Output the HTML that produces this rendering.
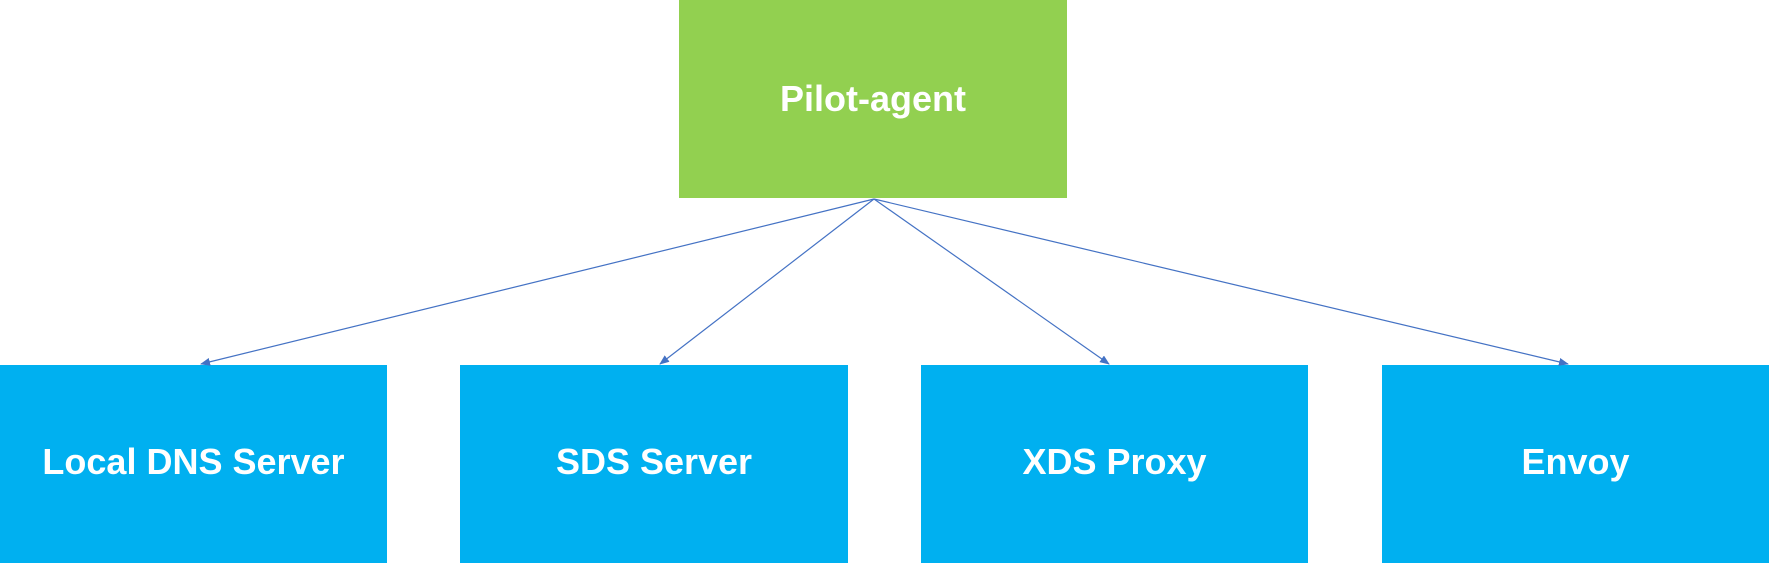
<!DOCTYPE html>
<html><head><meta charset="utf-8"><style>
html,body{margin:0;padding:0;background:#fff;}
body{width:1769px;height:563px;position:relative;overflow:hidden;font-family:"Liberation Sans",sans-serif;}
.b{position:absolute;display:flex;align-items:center;justify-content:center;color:#fff;font-weight:bold;font-size:36px;}
.g{background:#92d050;}
.c{background:#00b0f0;}
svg{position:absolute;left:0;top:0;}
</style></head><body>
<div class="b g" style="left:679px;top:0;width:388px;height:198px;">Pilot-agent</div>
<div class="b c" style="left:0;top:365px;width:387px;height:198px;padding-bottom:5px;box-sizing:border-box;">Local DNS Server</div>
<div class="b c" style="left:460px;top:365px;width:388px;height:198px;padding-bottom:5px;box-sizing:border-box;">SDS Server</div>
<div class="b c" style="left:921px;top:365px;width:387px;height:198px;padding-bottom:5px;box-sizing:border-box;">XDS Proxy</div>
<div class="b c" style="left:1382px;top:365px;width:387px;height:198px;padding-bottom:5px;box-sizing:border-box;">Envoy</div>
<svg width="1769" height="563">
<defs><marker id="a" markerWidth="10" markerHeight="8" refX="9" refY="4" orient="auto" markerUnits="userSpaceOnUse"><path d="M0,0 L10,4 L0,8 Z" fill="#4472c4"/></marker></defs>
<g stroke="#4472c4" stroke-width="1.2" fill="none" marker-end="url(#a)">
<line x1="874" y1="199" x2="201" y2="364"/>
<line x1="874" y1="199" x2="660" y2="364"/>
<line x1="874" y1="199" x2="1109" y2="364"/>
<line x1="874" y1="199" x2="1568" y2="364"/>
</g></svg>
</body></html>
